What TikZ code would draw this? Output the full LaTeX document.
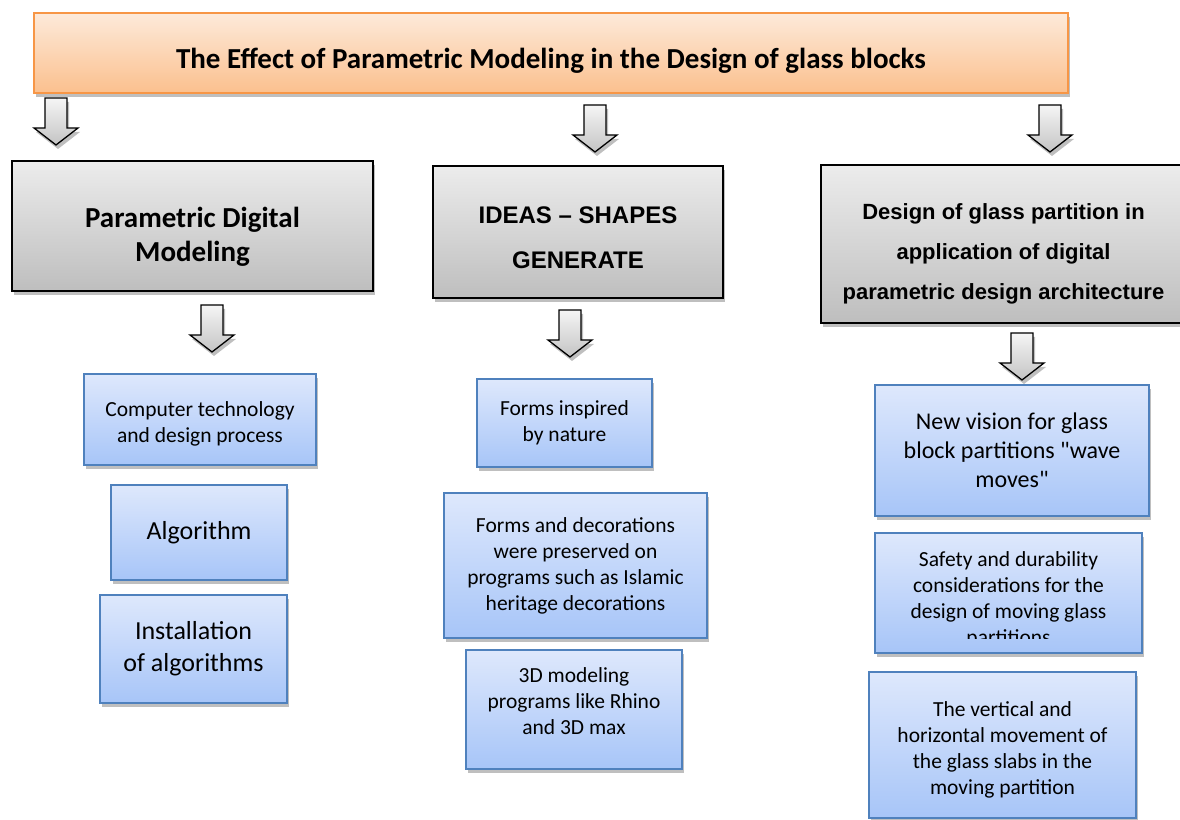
\documentclass[tikz,border=0pt]{standalone}
\usepackage{fontspec}
\setmainfont{Carlito}
\newfontfamily\arialfont{Liberation Sans}
\usetikzlibrary{shadows}

\begin{document}
\begin{tikzpicture}[x=1pt,y=1pt,
  softshadow/.style={drop shadow={shadow xshift=2pt,shadow yshift=-4pt,opacity=0.25,fill=black}},
  titlebox/.style={draw=titleDraw,line width=1.5pt,top color=titleTop,bottom color=titleBottom,
    softshadow,inner sep=0pt,outer sep=0pt,align=center,font=\fontsize{29}{35}\selectfont\bfseries},
  graybox/.style={draw=black,line width=1.5pt,top color=grayTop,bottom color=grayBottom,
    softshadow,inner sep=0pt,outer sep=0pt,align=center},
  bluebox/.style={draw=blueDraw,line width=1.5pt,top color=blueTop,bottom color=blueBottom,
    softshadow,inner sep=0pt,outer sep=0pt,align=center,font=\fontsize{21.5}{26}\selectfont},
  arrowshape/.style={draw=black,line width=1.3pt,line join=miter,top color=arrowTop,bottom color=arrowBottom,softshadow},
  pics/blockarrow/.style={code={
    \path[arrowshape] (-11,0) -- (11,0) -- (11,-30) -- (22,-30) -- (0,-47) -- (-22,-30) -- (-11,-30) -- cycle;
  }}]
\definecolor{titleDraw}{RGB}{247,150,70}
\definecolor{titleTop}{RGB}{253,234,218}
\definecolor{titleBottom}{RGB}{251,192,142}
\definecolor{grayTop}{RGB}{236,236,236}
\definecolor{grayBottom}{RGB}{190,190,190}
\definecolor{blueDraw}{RGB}{79,129,189}
\definecolor{blueTop}{RGB}{222,232,252}
\definecolor{blueBottom}{RGB}{167,197,248}
\definecolor{arrowTop}{RGB}{245,245,245}
\definecolor{arrowBottom}{RGB}{196,196,196}
\path[use as bounding box,fill=white] (0,0) rectangle (1180,819);

% title
\node[titlebox,minimum width=1034,minimum height=80] (title) at ( 551.0,766.0)
  {\rule{0pt}{35pt}The Effect of Parametric Modeling in the Design of glass blocks};

% arrows below the title
\pic at (  56.0,721.0) {blockarrow};
\pic at ( 595.0,714.0) {blockarrow};
\pic at (1050.0,714.0) {blockarrow};

% the three headings
\node[graybox,minimum width=361,minimum height=130,font=\fontsize{29}{34}\selectfont\bfseries] (pdm) at ( 192.5,593.0)
  {\rule{0pt}{41pt}Parametric Digital\\Modeling};
\node[graybox,minimum width=290,minimum height=132,font=\arialfont\fontsize{24}{45}\selectfont\bfseries] (ideas) at ( 578.0,587.0)
  {\rule{0pt}{29pt}IDEAS \textendash{} SHAPES\\GENERATE};
\node[graybox,minimum width=365,minimum height=158,font=\arialfont\fontsize{22}{40}\selectfont\bfseries] (partition) at (1003.5,575.0)
  {\rule{0pt}{36pt}Design of glass partition in\\application of digital\\parametric design architecture};

% arrows below the headings
\pic at ( 212.0,514.0) {blockarrow};
\pic at ( 570.0,509.0) {blockarrow};
\pic at (1022.0,486.0) {blockarrow};

% first column
\node[bluebox,minimum width=232,minimum height=91] (comptech) at ( 200.0,399.5)
  {\rule{0pt}{24pt}Computer technology\\and design process};
\node[bluebox,minimum width=176,minimum height=95,font=\fontsize{26}{32}\selectfont] (algo) at ( 199.0,286.5)
  {Algorithm};
\node[bluebox,minimum width=187,minimum height=108,font=\fontsize{26}{32}\selectfont] (install) at ( 193.5,170.0)
  {Installation\\of algorithms};

% second column
\node[bluebox,minimum width=175,minimum height=88] (nature) at ( 564.5,396.0)
  {Forms inspired\\by nature};
\node[bluebox,minimum width=263,minimum height=145] (decor) at ( 575.5,253.5)
  {Forms and decorations\\were preserved on\\programs such as Islamic\\heritage decorations};
\node[bluebox,minimum width=216,minimum height=119] (rhino) at ( 574.0,109.5)
  {3D modeling\\programs like Rhino\\and 3D max\rule[-16pt]{0pt}{16pt}};

% third column
\node[bluebox,minimum width=274,minimum height=131,font=\fontsize{24}{29}\selectfont] (vision) at (1012.0,368.5)
  {New vision for glass\\block partitions \textquotedbl wave\\moves\textquotedbl};
\node[bluebox,minimum width=267,minimum height=120] (safety) at (1008.5,226.0) {};
\begin{scope}
\path[clip] ( 875.0,180.0) rectangle (1142.0,286.0);
\node[anchor=north,inner sep=0pt,align=center,font=\fontsize{21.5}{26}\selectfont] (safetytext) at (1008.5,268.0)
  {Safety and durability\\considerations for the\\design of moving glass\\partitions};
\end{scope}
\node[bluebox,minimum width=267,minimum height=146] (vertical) at (1002.5,74.0)
  {\rule{0pt}{24pt}The vertical and\\horizontal movement of\\the glass slabs in the\\moving partition};
\end{tikzpicture}
\end{document}
